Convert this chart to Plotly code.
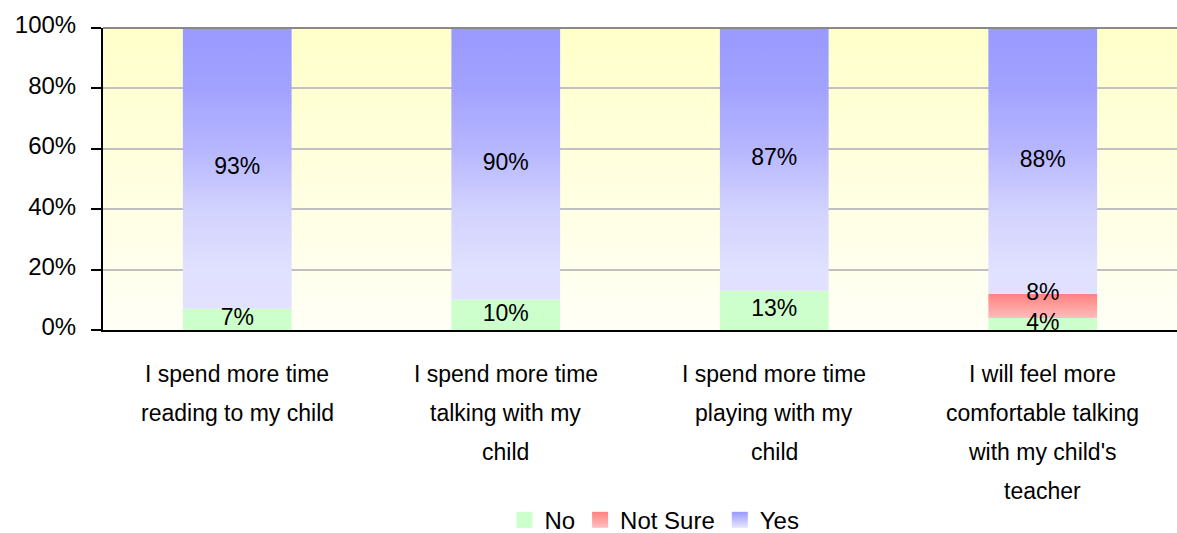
import base64
import plotly.graph_objects as go

# datos
categorias = [
    ["I spend more time", "reading to my child"],
    ["I spend more time", "talking with my", "child"],
    ["I spend more time", "playing with my", "child"],
    ["I will feel more", "comfortable talking", "with my child's", "teacher"],
]
no = [7, 10, 13, 4]
not_sure = [0, 0, 0, 8]
yes = [93, 90, 87, 88]
ticks_y = [0, 20, 40, 60, 80, 100]

FUENTE = "Liberation Sans, Arial, sans-serif"
ANCHO = 0.405


def poligonos(bases, valores):
    """Rectangulos de cada barra como poligonos (x, y) separados por None"""
    xs, ys = [], []
    for i, (b, v) in enumerate(zip(bases, valores)):
        if v == 0:
            continue
        x0, x1 = i - ANCHO / 2, i + ANCHO / 2
        xs += [x0, x1, x1, x0, x0, None]
        ys += [b, b, b + v, b + v, b, None]
    return xs, ys


def etiquetas(bases, valores):
    xs, ys, txt = [], [], []
    for i, (b, v) in enumerate(zip(bases, valores)):
        if v == 0:
            continue
        xs.append(i)
        ys.append(b + v / 2)
        txt.append(f"{v}%")
    return xs, ys, txt


base_no = [0] * len(no)
base_ns = no
base_yes = [a + b for a, b in zip(no, not_sure)]

fig = go.Figure()

series = [
    ("No", base_no, no, None, "#CCFFCC"),
    ("Not Sure", base_ns, not_sure,
     [[0, "#FFBCBC"], [1, "#FF8080"]], "#FF8080"),
    ("Yes", base_yes, yes,
     [[0, "#E3E3FF"], [0.2, "#E0E0FF"], [0.4, "#D2D2FF"], [0.6, "#B6B6FF"],
      [0.8, "#A2A2FF"], [1, "#9999FF"]], "#9999FF"),
]

for nombre, bases, valores, escala, color in series:
    xs, ys = poligonos(bases, valores)
    kw = dict(fillcolor=color)
    if escala is not None:
        tops = [b + v for b, v in zip(bases, valores) if v > 0]
        bots = [b for b, v in zip(bases, valores) if v > 0]
        inicio = 0 if nombre == "Yes" else min(bots)
        kw = dict(fillgradient=dict(type="vertical", colorscale=escala,
                                    start=inicio, stop=max(tops)))
    fig.add_trace(go.Scatter(x=xs, y=ys, fill="toself", mode="lines",
                             line=dict(width=0), showlegend=False,
                             hoverinfo="skip", **kw))

# etiquetas de datos
for nombre, bases, valores, escala, color in series:
    xs, ys, txt = etiquetas(bases, valores)
    pos = "middle center"
    if nombre == "Not Sure":
        ys = [b + v for b, v in zip(bases, valores) if v > 0]
        ys = [y - 4 for y in ys]
        pos = "top center"
    fig.add_trace(go.Scatter(x=xs, y=ys, text=txt, mode="text",
                             textposition=pos, showlegend=False,
                             textfont=dict(family=FUENTE, size=23, color="black"),
                             hoverinfo="skip"))

# leyenda
leyenda = [("No", "#CCFFCC", "#CCFFCC"), ("Not Sure", "#FF8080", "#FFC0C0"),
           ("Yes", "#9999FF", "#E6E6FF")]
for nombre, c1, c2 in leyenda:
    fig.add_trace(go.Scatter(x=[None], y=[None], mode="markers", name=nombre,
                             marker=dict(symbol="square", size=19, color=c1,
                                         line=dict(width=0),
                                         gradient=dict(type="vertical", color=c2))))

# etiquetas del eje x
for i, lineas in enumerate(categorias):
    for j, linea in enumerate(lineas):
        fig.add_annotation(x=i, xref="x", y=0, yref="paper", text=linea,
                           showarrow=False, yanchor="middle",
                           yshift=-(44 + 39 * j),
                           font=dict(family=FUENTE, size=23, color="black"))

# fondo degradado
svg = ("<svg xmlns='http://www.w3.org/2000/svg' width='100' height='100' "
       "viewBox='0 0 100 100' preserveAspectRatio='none'><defs>"
       "<linearGradient id='g' x1='0' y1='0' x2='0' y2='1'>"
       "<stop offset='0' stop-color='#FFFFCA'/>"
       "<stop offset='1' stop-color='#FFFFF6'/></linearGradient></defs>"
       "<rect width='100' height='100' fill='url(#g)'/></svg>")
fondo = "data:image/svg+xml;base64," + base64.b64encode(svg.encode()).decode()

fig.add_layout_image(source=fondo, xref="paper", yref="paper", x=0, y=1,
                     sizex=1, sizey=1, xanchor="left", yanchor="top",
                     sizing="stretch", layer="below")

fig.add_shape(type="line", xref="paper", yref="paper", x0=0, x1=1, y0=1, y1=1,
              line=dict(color="#888888", width=2), layer="above")

fig.update_layout(
    width=1177, height=533,
    margin=dict(l=103, r=0, t=28, b=203),
    paper_bgcolor="white",
    plot_bgcolor="rgba(0,0,0,0)",
    font=dict(family=FUENTE, size=23, color="black"),
    legend=dict(orientation="h", xref="container", x=0.556, xanchor="center",
                yref="container", y=0.024, yanchor="middle",
                font=dict(size=24), itemwidth=30, bgcolor="rgba(0,0,0,0)"),
    xaxis=dict(range=[-0.5, 3.5], showgrid=False, zeroline=False,
               showticklabels=False, ticks="", showline=True,
               linecolor="black", linewidth=2,
               minor=dict(tick0=0.5, dtick=1, ticks="outside", ticklen=9,
                          tickwidth=2, tickcolor="black", showgrid=False)),
    yaxis=dict(range=[0, 100], tickvals=ticks_y,
               ticktext=[f"{t}%" for t in ticks_y],
               showgrid=True, gridcolor="#C0C0C0",
               gridwidth=1.5, zeroline=False, showline=True,
               linecolor="black", linewidth=2, ticks="outside", ticklen=10,
               tickwidth=1.5, tickcolor="black", ticklabelstandoff=10,
               ticklabelshift=-3,
               tickfont=dict(family=FUENTE, size=24, color="black")),
)

# sin margen en la pagina para que el grafico ocupe toda la ventana
fig.write_html("out.html", config={"displayModeBar": False},
               post_script="document.body.style.margin = '0';")
